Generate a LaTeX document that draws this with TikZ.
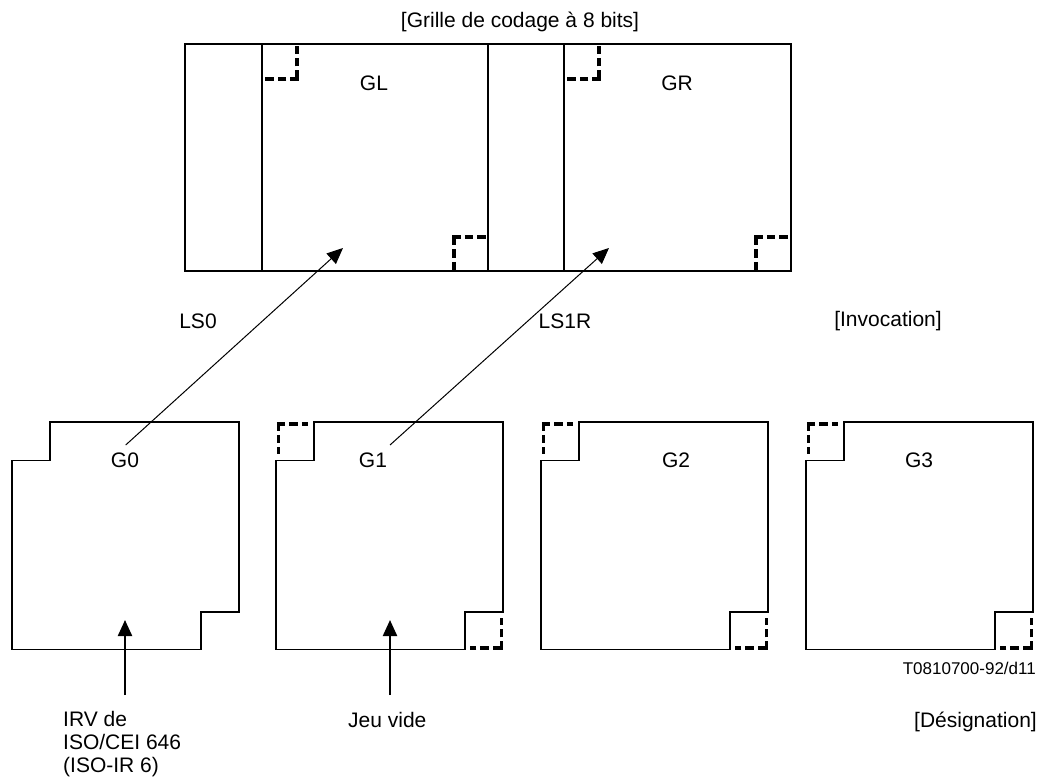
\documentclass[tikz,border=0pt]{standalone}
\usepackage{fontspec}
\setmainfont{Liberation Sans}
\usetikzlibrary{arrows.meta}
\newcommand{\gshape}[1]{%
  \draw[boxline] ({#1+38},422) -- ({#1+227},422) -- ({#1+227},612) -- ({#1+189},612)
    -- ({#1+189},649.5) -- (#1,649.5) -- (#1,460.5) -- ({#1+38},460.5) -- cycle;}
\newcommand{\gcorners}[1]{%
  \draw[corner] ({#1+0.75},424) -- ++(31,0);
  \draw[corner] ({#1+2.5},422.25) -- ++(0,32);
  \draw[corner] ({#1+225.25},648) -- ++(-31,0);
  \draw[corner] ({#1+225.5},649.75) -- ++(0,-32);}
\begin{document}
\begin{tikzpicture}[x=1pt,y=-1pt,
  lbl/.style={font=\fontsize{21}{23}\selectfont, inner sep=0pt},
  code/.style={font=\fontsize{17}{20}\selectfont, inner sep=0pt},
  gridline/.style={line width=1.5pt},
  boxline/.style={line width=1.2pt},
  corner/.style={line width=3.5pt, dash pattern=on 8.5pt off 4pt},
  link/.style={line width=1pt, -{Triangle[length=16pt,width=14pt]}},
  feed/.style={line width=2.2pt, -{Triangle[length=16pt,width=14pt]}}]
\useasboundingbox (0,0) rectangle (1039,778);

% 8-bit code grid
\draw[gridline] (185,44) rectangle (791,271);
\draw[gridline] (262,44) -- (262,271);
\draw[gridline] (488,44) -- (488,271);
\draw[gridline] (564,44) -- (564,271);
% dashed corners in the grid
\draw[corner] (298.75,79) -- ++(-34,0);
\draw[corner] (297,79) -- ++(0,-33);
\draw[corner] (452.25,237) -- ++(34,0);
\draw[corner] (454,237) -- ++(0,33);
\draw[corner] (600.75,79) -- ++(-34,0);
\draw[corner] (599,79) -- ++(0,-33);
\draw[corner] (754.25,237) -- ++(34,0);
\draw[corner] (756,237) -- ++(0,33);

\node[lbl] (title) at (520,22) {[Grille de codage à 8 bits]};
\node[lbl] (GL) at (374,83) {GL};
\node[lbl] (GR) at (677,83) {GR};

\node[lbl] (LS0) at (198,321) {LS0};
\node[lbl] (LS1R) at (565,321) {LS1R};
\node[lbl] (inv) at (888,321) {[Invocation]};

% G0..G3 sets
\gshape{12}
\gshape{276}
\gshape{541}
\gshape{806}
\gcorners{276}
\gcorners{541}
\gcorners{806}

\node[lbl] (G0) at (125,460) {G0};
\node[lbl] (G1) at (373,460) {G1};
\node[lbl] (G2) at (676,460) {G2};
\node[lbl] (G3) at (919,460) {G3};

% invocation arrows
\coordinate (g0s) at (125.7,445);
\coordinate (glt) at (343,248);
\coordinate (g1s) at (390,445);
\coordinate (grt) at (609,248);
\draw[link] (g0s) -- (glt);
\draw[link] (g1s) -- (grt);

% designation arrows
\coordinate (irvtop) at (125,695);
\coordinate (g0in) at (125,620);
\coordinate (jeutop) at (390,695);
\coordinate (g1in) at (390,620);
\draw[feed] (irvtop) -- (g0in);
\draw[feed] (jeutop) -- (g1in);

\node[lbl, anchor=north west, align=left] (irv) at (63,711) {IRV de\\ISO/CEI 646\\(ISO-IR 6)};
\node[lbl, anchor=base west] (jeu) at (348,727) {Jeu vide};
\node[lbl, anchor=base east] (desig) at (1037,727) {[Désignation]};
\node[code, anchor=base east] (tcode) at (1036,674) {T0810700-92/d11};
\end{tikzpicture}
\end{document}
